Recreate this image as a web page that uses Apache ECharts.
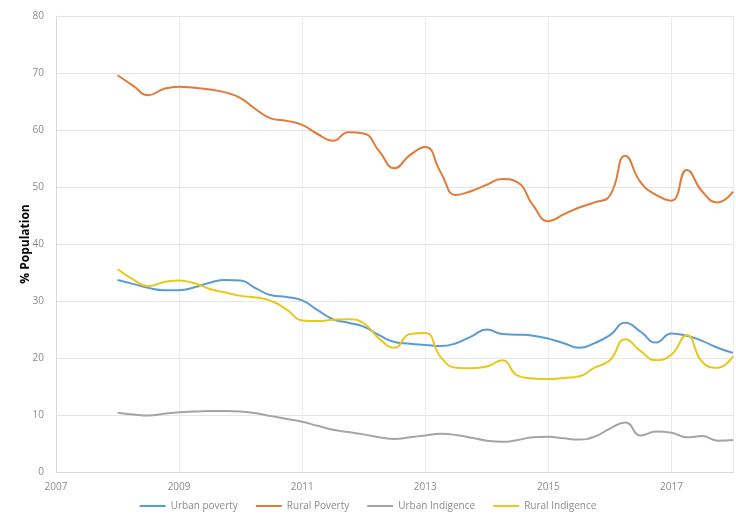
<!DOCTYPE html>
<html>
<head>
<meta charset="utf-8">
<script src="https://cdn.jsdelivr.net/npm/echarts@6/dist/echarts.min.js"></script>
<style>
  html, body { margin: 0; padding: 0; background: #fff; }
  #chart { width: 736px; height: 518px; }
</style>
</head>
<body>
<div id="chart"></div>
<script>
// quarterly observation dates (fractional years)
const quarters = [
  2008.0, 2008.25, 2008.5, 2008.75, 2009.0, 2009.25, 2009.5, 2009.75,
  2010.0, 2010.25, 2010.5, 2010.75, 2011.0, 2011.25, 2011.5, 2011.75,
  2012.0, 2012.25, 2012.5, 2012.75, 2013.0, 2013.25, 2013.5, 2013.75,
  2014.0, 2014.25, 2014.5, 2014.75, 2015.0, 2015.25, 2015.5, 2015.75,
  2016.0, 2016.25, 2016.5, 2016.75, 2017.0, 2017.25, 2017.5, 2017.75,
  2018.0
]

const urbanPoverty = [
  33.7, 33.0, 32.3, 31.9, 31.9, 32.4, 33.2, 33.7,
  33.6, 32.2, 31.0, 30.7, 30.1, 28.4, 26.8, 26.2,
  25.5, 24.0, 22.8, 22.5, 22.3, 22.1, 22.6, 23.8,
  25.0, 24.2, 24.1, 23.9, 23.4, 22.6, 21.8, 22.6,
  24.0, 26.2, 24.6, 22.7, 24.3, 23.9, 23.0, 21.8,
  20.9
]

const ruralPoverty = [
  69.6, 67.8, 66.1, 67.2, 67.6, 67.4, 67.1, 66.6,
  65.6, 63.6, 62.0, 61.6, 60.9, 59.3, 58.1, 59.6,
  59.4, 56.3, 53.3, 55.6, 57.0, 52.6, 48.6, 49.3,
  50.4, 51.4, 50.8, 46.8, 44.0, 45.2, 46.4, 47.3,
  48.5, 55.5, 50.8, 48.6, 47.6, 53.0, 49.2, 47.3,
  49.2
]

const urbanIndigence = [
  10.4, 10.1, 9.9, 10.2, 10.5, 10.6, 10.7, 10.7,
  10.6, 10.3, 9.8, 9.3, 8.8, 8.1, 7.4, 7.0,
  6.6, 6.1, 5.8, 6.1, 6.4, 6.7, 6.5, 6.0,
  5.5, 5.3, 5.6, 6.1, 6.2, 5.9, 5.7, 6.2,
  7.6, 8.7, 6.4, 7.1, 6.9, 6.1, 6.3, 5.5,
  5.6
]

const ruralIndigence = [
  35.6, 33.8, 32.6, 33.3, 33.6, 33.1, 32.1, 31.5,
  30.9, 30.6, 30.0, 28.5, 26.6, 26.5, 26.7, 26.8,
  26.1, 23.4, 21.8, 24.2, 24.4, 20.2, 18.3, 18.2,
  18.5, 19.6, 16.9, 16.4, 16.3, 16.5, 16.8, 18.3,
  19.6, 23.3, 21.2, 19.6, 20.6, 24.0, 19.3, 18.3,
  20.3
]

const seriesNames = ['Urban poverty', 'Rural Poverty', 'Urban Indigence', 'Rural Indigence']
const seriesColors = ['#5b9bd5', '#e07b39', '#a5a5a5', '#e8c81c']
const seriesValues = [urbanPoverty, ruralPoverty, urbanIndigence, ruralIndigence]

const chart = echarts.init(document.getElementById('chart'))

const option = {
  animation: false,
  grid: { left: 56, width: 682, top: 16, bottom: 46 },
  legend: {
    bottom: 2,
    left: 'center',
    icon: 'rect',
    itemWidth: 26,
    itemHeight: 2,
    itemGap: 18,
    textStyle: { color: '#8c8c8c', fontSize: 10, fontFamily: 'Open Sans' },
    data: seriesNames
  },
  xAxis: {
    type: 'value',
    min: 2007,
    max: 2018,
    interval: 2,
    axisLine: { show: true, lineStyle: { color: '#d9d9d9' } },
    axisTick: { show: false },
    axisLabel: {
      color: '#8c8c8c',
      fontSize: 10,
      fontFamily: 'Open Sans',
      margin: 10,
      formatter: (v) => (v % 2 === 1 ? String(v) : '')
    },
    splitLine: { show: true, lineStyle: { color: '#ececec' } }
  },
  yAxis: {
    type: 'value',
    min: 0,
    max: 80,
    interval: 10,
    name: '% Population',
    nameLocation: 'middle',
    nameGap: 24,
    nameMoveOverlap: false,
    nameTextStyle: { color: '#000', fontSize: 12, fontWeight: 'bold', fontFamily: 'Open Sans' },
    axisLine: { show: true, lineStyle: { color: '#d9d9d9' } },
    axisTick: { show: false },
    axisLabel: { color: '#8c8c8c', fontSize: 10, fontFamily: 'Open Sans', margin: 12 },
    splitLine: { lineStyle: { color: '#e6e6e6' } }
  },
  series: seriesNames.map((name, i) => ({
    name,
    type: 'line',
    smooth: 0.5,
    symbol: 'none',
    data: quarters.map((q, j) => [q, seriesValues[i][j]]),
    lineStyle: { color: seriesColors[i], width: 2 },
    itemStyle: { color: seriesColors[i] }
  }))
}

chart.setOption(option)
</script>
</body>
</html>
